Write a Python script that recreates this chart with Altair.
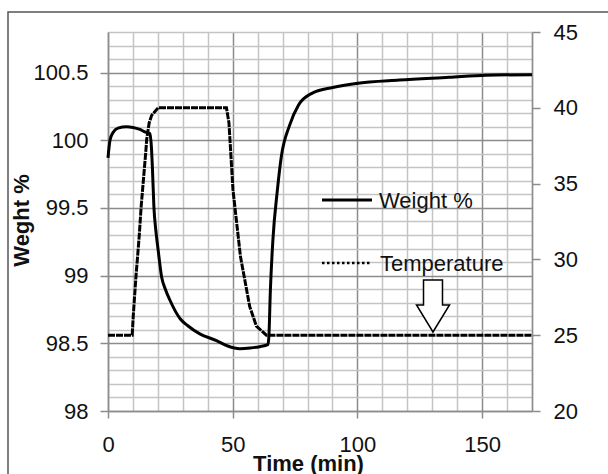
import altair as alt
import pandas as pd

# ---- data ----
weight_time = [0, 0.8, 2.1, 4, 7.5, 10, 12.8, 15, 16.8, 17.4, 17.8, 18.4, 19.2, 20.1, 21.5, 23,
               24.8, 29, 32, 36.8, 43.5, 48, 52.8, 57, 60.8, 64.1, 64.5, 65.1, 66.1, 67.9, 69.5,
               72.8, 76.4, 82.1, 90.1, 99.5, 116.8, 136.8, 151.5, 170]
weight_pct = [99.87, 100.0, 100.06, 100.09, 100.1, 100.095, 100.08, 100.06, 100.05, 99.95, 99.8,
              99.51, 99.33, 99.19, 98.99, 98.9, 98.82, 98.68, 98.63, 98.57, 98.52, 98.48, 98.46,
              98.465, 98.475, 98.49, 98.55, 98.89, 99.26, 99.63, 99.88, 100.11, 100.26, 100.35,
              100.39, 100.42, 100.445, 100.465, 100.48, 100.485]

temp_time = [0, 9.7, 10.1, 11.2, 12.5, 13.3, 15.2, 15.5, 16.5, 17.5, 20.1, 47.5, 48.5, 50.1,
             53.1, 56.8, 59.5, 63.5, 170]
temp_c = [25, 25, 26.2, 28.85, 31.5, 33.5, 37.2, 37.9, 39.0, 39.5, 40.0, 40.0, 39.0, 34.6,
          30.2, 26.9, 25.6, 25.0, 25.0]

x_ticks = list(range(0, 171, 10))
w_ticks = [round(98 + 0.1 * i, 1) for i in range(29)]
t_ticks = [20, 25, 30, 35, 40, 45]
legend_labels = ["Weight %", "Temperature"]

FONT = "Liberation Sans"
MINOR = "#c4c4c4"
MAJOR = "#8c8c8c"

wdf = pd.DataFrame({"t": weight_time, "w": weight_pct})
tdf = pd.DataFrame({"t": temp_time, "T": temp_c})

x_major = "datum.value % 50 === 0"
y_major = "abs(datum.value * 2 - round(datum.value * 2)) < 0.001"

x_axis = alt.Axis(
    values=x_ticks, grid=True,
    gridColor={"condition": {"test": x_major, "value": MAJOR}, "value": MINOR},
    gridWidth=1.5,
    tickOpacity={"condition": {"test": x_major, "value": 1}, "value": 0},
    labelExpr=f"{x_major} ? datum.label : ''",
    labelOverlap=False, labelFlush=False,
    tickSize=7, tickColor=MAJOR, tickWidth=1.5, labelPadding=16,
    domainColor=MAJOR, domainWidth=1.5,
    labelFontSize=22, labelFont=FONT, labelColor="#111",
    title="Time (min)", titleFont=FONT, titleFontSize=22, titleFontWeight="bold",
    titleColor="#111", titleX=200, titleY=59, titleBaseline="alphabetic", titleAlign="center",
)

x_enc = alt.X("t:Q", scale=alt.Scale(domain=[0, 170], nice=False, zero=False), axis=x_axis)

w_axis = alt.Axis(
    values=w_ticks, grid=True, format=".1~f",
    gridColor={"condition": {"test": y_major, "value": MAJOR}, "value": MINOR},
    gridWidth=1.5,
    tickOpacity={"condition": {"test": y_major, "value": 1}, "value": 0},
    labelExpr=f"{y_major} ? datum.label : ''",
    labelOverlap=False, labelFlush=False,
    tickSize=8, tickColor=MAJOR, tickWidth=1.5, labelPadding=12,
    domainColor=MAJOR, domainWidth=1.5,
    labelFontSize=22, labelFont=FONT, labelColor="#111",
    title="Weght %", titleFont=FONT, titleFontSize=22, titleFontWeight="bold",
    titleColor="#111", titleX=-80, titleY=188, titleBaseline="alphabetic",
    titleAlign="center", titleAngle=270,
)

t_axis = alt.Axis(
    orient="right", values=t_ticks, grid=False, title=None,
    tickSize=8, tickColor=MAJOR, tickWidth=1.5, labelPadding=13,
    domainColor=MAJOR, domainWidth=1.5, labelOverlap=False, labelFlush=False,
    labelFontSize=22, labelFont=FONT, labelColor="#111",
)

weight_line = alt.Chart(wdf).mark_line(color="black", strokeWidth=3, interpolate="monotone").encode(
    x=x_enc,
    y=alt.Y("w:Q", scale=alt.Scale(domain=[98, 100.8], nice=False, zero=False), axis=w_axis),
)

temp_line = alt.Chart(tdf).mark_line(color="black", strokeWidth=3, strokeDash=[7, 1]).encode(
    x=x_enc,
    y=alt.Y("T:Q", scale=alt.Scale(domain=[20, 45], nice=False, zero=False), axis=t_axis),
)

one = pd.DataFrame({"a": [0]})

# in-plot legend
leg_w_line = alt.Chart(one).mark_rule(color="black", strokeWidth=3).encode(
    x=alt.value(214), x2=alt.value(264), y=alt.value(168))
leg_t_line = alt.Chart(one).mark_rule(color="black", strokeWidth=2.5, strokeDash=[2.5, 2.5]).encode(
    x=alt.value(214), x2=alt.value(264), y=alt.value(231))
leg_w_text = alt.Chart(pd.DataFrame({"label": [legend_labels[0]]})).mark_text(
    align="left", baseline="middle", font=FONT, fontSize=22, color="#111").encode(
    text="label:N", x=alt.value(271), y=alt.value(169))
leg_t_text = alt.Chart(pd.DataFrame({"label": [legend_labels[1]]})).mark_text(
    align="left", baseline="middle", font=FONT, fontSize=22, color="#111").encode(
    text="label:N", x=alt.value(272), y=alt.value(232))

arrow_path = "M -0.365 -1 L 0.365 -1 L 0.365 -0.04 L 0.635 -0.04 L 0 1 L -0.635 -0.04 L -0.365 -0.04 Z"
arrow = alt.Chart(one).mark_point(
    shape=arrow_path, size=2704, filled=True, fill="white", stroke="black",
    strokeWidth=1.5, opacity=1, fillOpacity=1).encode(
    x=alt.value(325), y=alt.value(274))

frame = alt.Chart(one).mark_rect(fillOpacity=0, stroke="#555", strokeWidth=1.5).encode(
    x=alt.value(-100), x2=alt.value(530), y=alt.value(-20), y2=alt.value(470))

chart = alt.layer(
    frame, weight_line, temp_line, leg_w_line, leg_t_line, leg_w_text, leg_t_text, arrow
).resolve_scale(y="independent").properties(
    width=424, height=379,
    padding={"left": 108, "top": 32, "right": 76, "bottom": 63},
    autosize="none",
    background="white",
).configure_view(strokeWidth=0)

chart.save("out.html", embed_options={"renderer": "svg", "actions": False})
